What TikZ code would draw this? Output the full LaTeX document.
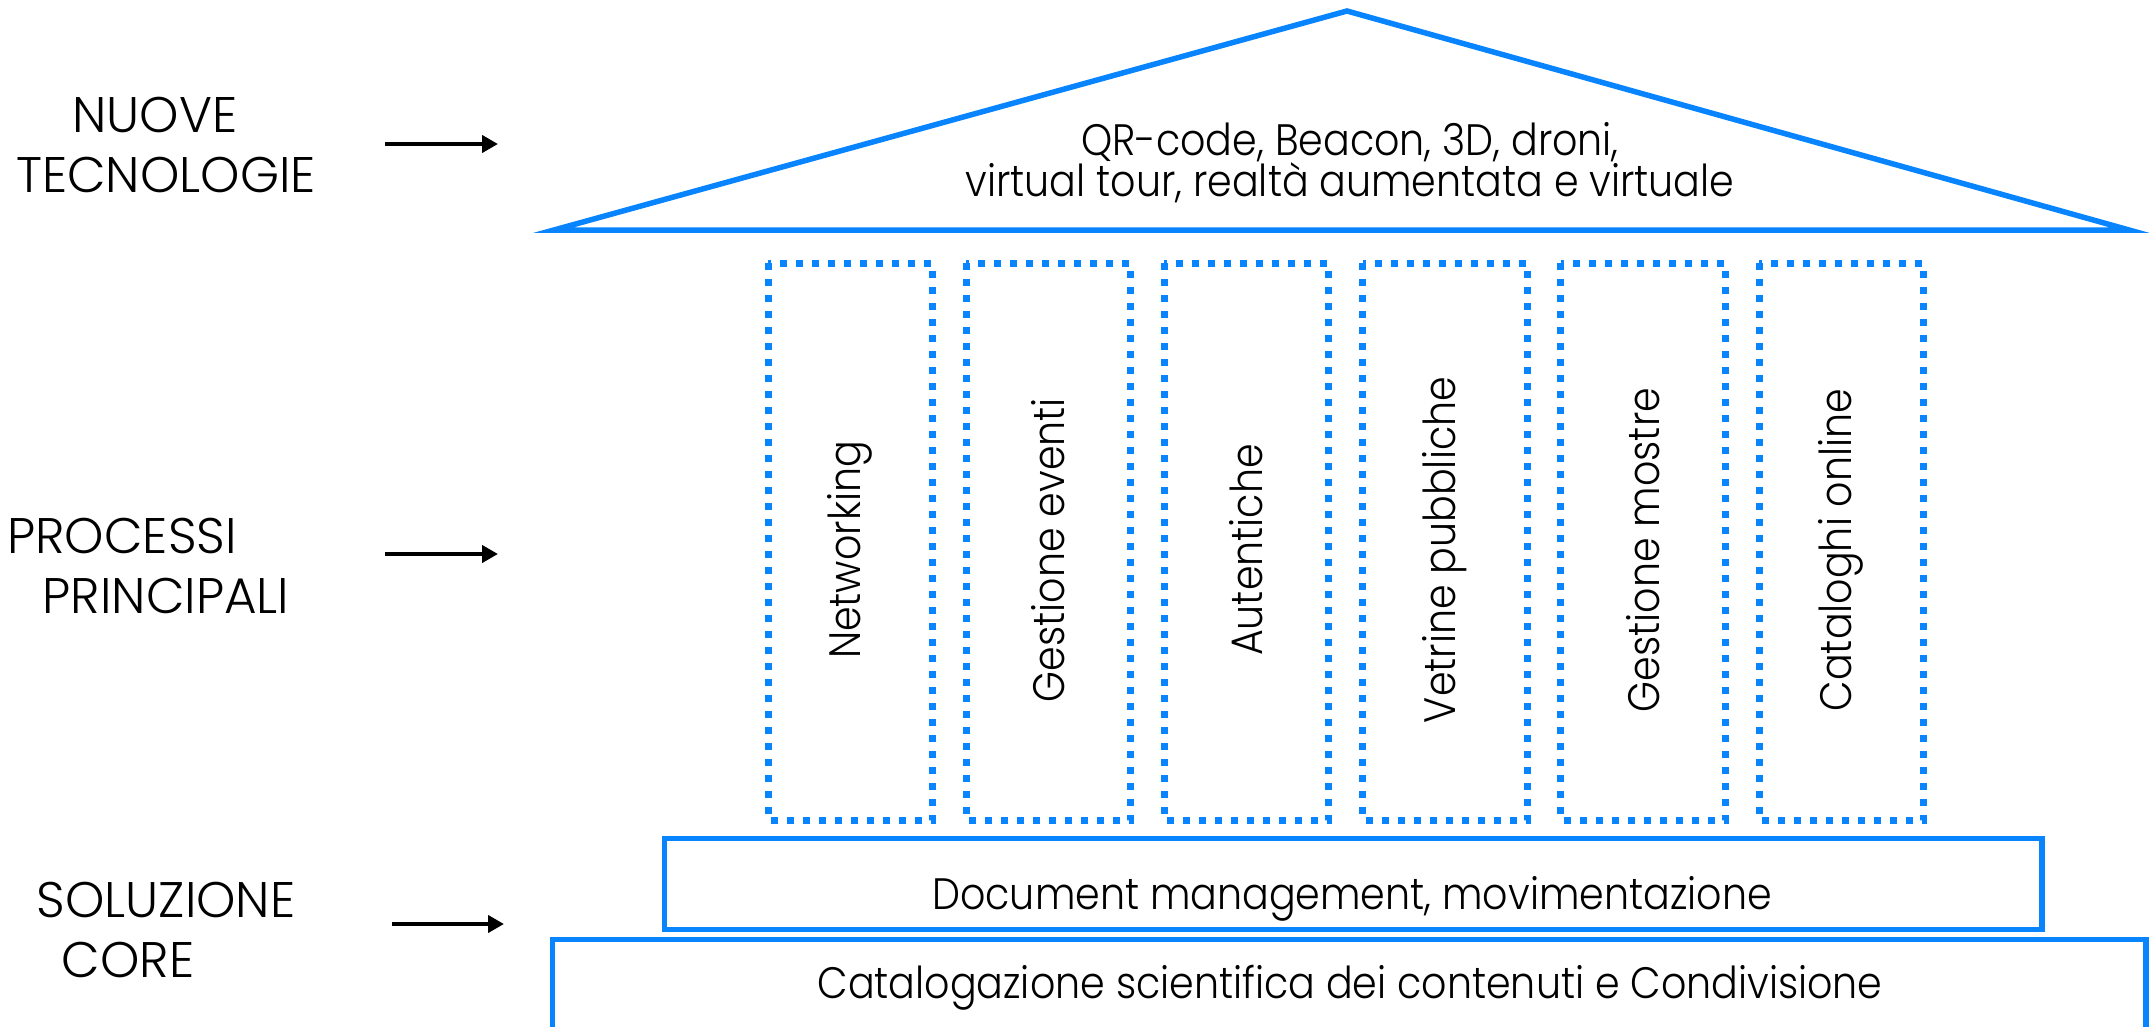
\documentclass[tikz,border=0pt]{standalone}
\usepackage{fontspec}
\setmainfont{Poppins Light}
\newfontfamily\bodyfont{Poppins Light}[FakeStretch=0.9]
\usetikzlibrary{arrows.meta}
\definecolor{pillarblue}{RGB}{8,132,255}

\tikzset{
  solidline/.style={draw=pillarblue, line width=5.5pt},
  dotline/.style={draw=pillarblue, line width=7pt, dash pattern=on 7pt off 9pt},
  lbl/.style={font=\bodyfont\fontsize{44}{60}\selectfont, align=center, inner sep=0pt},
  rooflbl/.style={font=\bodyfont\fontsize{44}{41}\selectfont, align=center, inner sep=0pt},
  sidelbl/.style={font=\fontsize{50}{60}\selectfont, align=center, inner sep=0pt},
  tip/.style={-{Triangle[length=16pt,width=17pt]}, line width=4pt},
}

\begin{document}
\begin{tikzpicture}[x=1pt,y=-1pt]
    \clip (0,0) rectangle (2151,1027);
    % roof
    \draw[solidline] (554,230) -- (1347,11) -- (2129,230) -- cycle;
    \node[rooflbl] (roof) at (1350,163) {QR-code, Beacon, 3D, droni,\\virtual tour, realtà aumentata e virtuale};
    % columns
    \foreach \i/\name in {0/Networking, 1/Gestione eventi, 2/Autentiche, 3/Vetrine pubbliche, 4/Gestione mostre, 5/Cataloghi online} {
        \draw[dotline] ({768+198.2*\i},263) rectangle ++(164.5,557);
        \node[lbl, rotate=90] (col\i) at ({850+198.2*\i},550) {\name};
    }
    % core
    \draw[solidline] (664.5,838.5) rectangle (2042,929.5);
    \node[lbl, anchor=base] (docmgmt) at (1352,909) {Document management, movimentazione};
    \draw[solidline] (552.5,1040) -- (552.5,939.5) -- (2146,939.5) -- (2146,1040);
    \node[lbl, anchor=base] (catalog) at (1350,998) {Catalogazione scientifica dei contenuti e Condivisione};
    % left side
    \node[sidelbl] (newtech) at (166,145) {NUOVE\hspace*{22pt}\\TECNOLOGIE};
    \node[sidelbl] (process) at (166,566) {PROCESSI\hspace*{88pt}\\PRINCIPALI};
    \node[sidelbl] (coresol) at (166,930) {SOLUZIONE\\CORE\hspace*{76pt}};
    \coordinate (a1s) at (385,144); \coordinate (a1e) at (498,144);
    \coordinate (a2s) at (385,554); \coordinate (a2e) at (498,554);
    \coordinate (a3s) at (392,924); \coordinate (a3e) at (504,924);
    \draw[tip] (a1s) -- (a1e);
    \draw[tip] (a2s) -- (a2e);
    \draw[tip] (a3s) -- (a3e);
\end{tikzpicture}
\end{document}
